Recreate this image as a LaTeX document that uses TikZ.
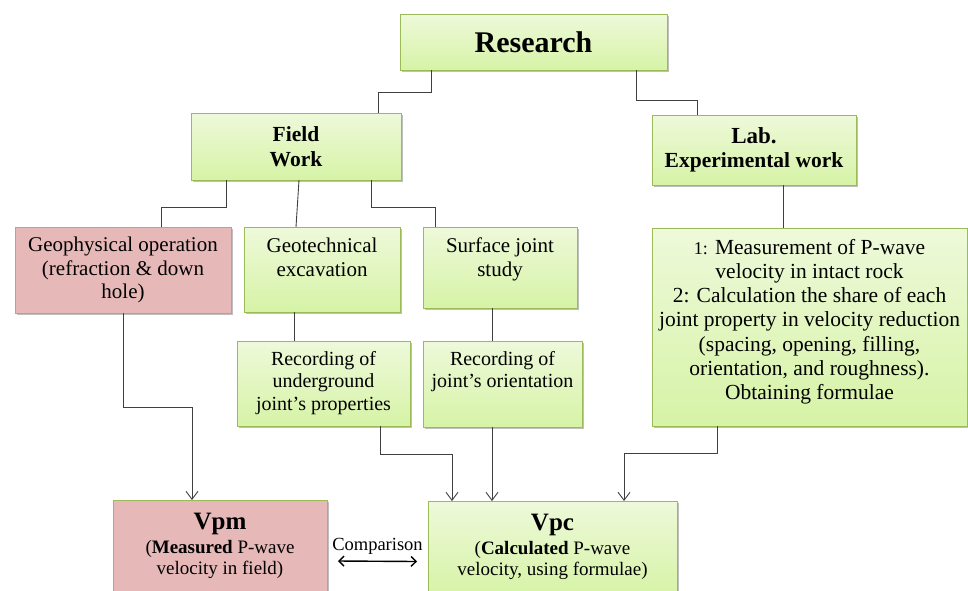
\documentclass[tikz,border=0pt]{standalone}
\usepackage{fontspec}
\setmainfont{Liberation Serif}
\usepackage{xcolor}
\usetikzlibrary{positioning,arrows.meta,shadows}

\definecolor{boxline}{HTML}{9BBB59}
\definecolor{greentop}{HTML}{EEF9DA}
\definecolor{greenbot}{HTML}{D6F3A6}
\definecolor{pinkfill}{HTML}{E6B9B8}
\definecolor{linkgray}{HTML}{404040}

\begin{document}
\begin{tikzpicture}[x=1pt, y=-1pt,
  boxbase/.style={rectangle, draw=boxline, line width=0.9pt, inner sep=0pt,
                  outer sep=0pt, align=center,
                  drop shadow={shadow xshift=1.5pt, shadow yshift=-1.5pt,
                               opacity=0.25, fill=black}},
  greenbox/.style={boxbase, top color=greentop, bottom color=greenbot},
  pinkbox/.style={boxbase, fill=pinkfill},
  head/.style={font=\fontsize{21.5}{24.5}\selectfont\bfseries},
  body/.style={font=\fontsize{21}{23.5}\selectfont},
  note/.style={font=\fontsize{20}{22.5}\selectfont},
  txt/.style={inner sep=0pt, align=center},
  link/.style={draw=linkgray, line width=0.9pt},
  >={Straight Barb[length=8pt,width=12pt]}
]
  \useasboundingbox (0,0) rectangle (968,590);

  % top levels
  \node[greenbox, minimum width=267pt, minimum height=56pt,
        font=\fontsize{30}{34}\selectfont\bfseries] (research) at (533.5,42) {Research};
  \node[greenbox, head, minimum width=210pt, minimum height=67pt] (field) at (296,146.5) {Field\\Work};
  \node[greenbox, head, minimum width=204pt, minimum height=70pt] (lab) at (754,150)
       {{\fontsize{23}{25}\selectfont Lab.}\\Experimental work};

  % field work branches
  \node[pinkbox, body, minimum width=216pt, minimum height=86pt] (geo) at (123,270)
       {Geophysical operation\\(refraction \& down\\hole)};
  \node[greenbox, minimum width=156pt, minimum height=85pt] (geotech) at (322,269.5) {};
  \node[txt, body, below=11pt of geotech.north] (geotechtext) {Geotechnical\\excavation};
  \node[greenbox, minimum width=154pt, minimum height=81pt] (surface) at (500,267.5) {};
  \node[txt, body, below=11pt of surface.north] (surfacetext) {Surface joint\\study};
  \node[greenbox, minimum width=315pt, minimum height=198pt] (labwork) at (809.5,327) {};
  \node[txt, font=\fontsize{21.5}{24.2}\selectfont, below=11pt of labwork.north] (labworktext)
       {{\fontsize{18}{20}\selectfont 1:} Measurement of P-wave\\velocity in intact rock\\
        2: Calculation the share of each\\joint property in velocity reduction\\
        (spacing, opening, filling,\\orientation, and roughness).\\Obtaining formulae};

  \node[greenbox, minimum width=173pt, minimum height=85pt] (underground) at (323.5,383.5) {};
  \node[txt, note, below=10pt of underground.north] (undergroundtext)
       {Recording of\\underground\\joint’s properties};
  \node[greenbox, minimum width=159pt, minimum height=86pt] (orient) at (502.5,384) {};
  \node[txt, note, below=10pt of orient.north] (orienttext) {Recording of\\joint’s orientation};

  % results
  \node[pinkbox, minimum width=214pt, minimum height=96pt] (vpm) at (220,548) {};
  \node[txt, font=\fontsize{19}{21}\selectfont, below=13pt of vpm.north] (vpmtext)
       {{\fontsize{25}{26}\selectfont\bfseries Vpm}\\[3pt](\textbf{Measured} P-wave\\velocity in field)};
  \node[greenbox, minimum width=249pt, minimum height=95pt] (vpc) at (552.5,548.5) {};
  \node[txt, font=\fontsize{19}{21}\selectfont, below=13pt of vpc.north] (vpctext)
       {{\fontsize{25}{26}\selectfont\bfseries Vpc}\\[3pt](\textbf{Calculated} P-wave\\velocity, using formulae)};

  % connectors
  \draw[link] ([xshift=-102.5pt]research.south) -- ++(0,22) -| ([xshift=82pt]field.north);
  \draw[link] ([xshift=102.5pt]research.south) -- ++(0,30) -| ([xshift=-57pt]lab.north);
  \draw[link] ([xshift=-70pt]field.south) -- ++(0,27) -| ([xshift=38pt]geo.north);
  \draw[link] ([xshift=3pt]field.south) -- ([xshift=-26pt]geotech.north);
  \draw[link] ([xshift=75pt]field.south) -- ++(0,27) -| ([xshift=-65pt]surface.north);
  \draw[link] ([xshift=29pt]lab.south) -- ([xshift=-26.5pt]labwork.north);
  \draw[link] ([xshift=-28pt]geotech.south) -- ([xshift=-29.5pt]underground.north);
  \draw[link] ([xshift=-8pt]surface.south) -- ([xshift=-10.5pt]orient.north);

  \draw[link, ->] (geo.south) -- ++(0,94) -| ([xshift=-28pt]vpm.north);
  \draw[link, ->] ([xshift=56.5pt]underground.south) -- ++(0,28) -| ([xshift=-100.5pt]vpc.north);
  \draw[link, ->] ([xshift=-10.5pt]orient.south) -- ([xshift=-60.5pt]vpc.north);
  \draw[link, ->] ([xshift=-92.5pt]labwork.south) -- ++(0,27) -| ([xshift=71.5pt]vpc.north);

  \draw[line width=1.4pt, <->, >={Straight Barb[length=5pt,width=10pt]}]
       ([shift={(11,13)}]vpm.east) -- ([shift={(-11,13)}]vpc.west)
       node[midway, above=6pt, inner sep=0pt, font=\fontsize{18.5}{20}\selectfont] (cmp) {Comparison};
\end{tikzpicture}
\end{document}
